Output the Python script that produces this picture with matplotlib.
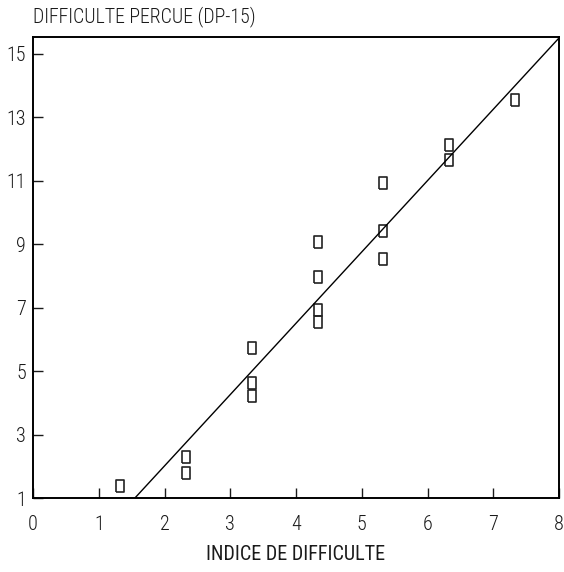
import numpy as np
import matplotlib.pyplot as plt

# Indice de difficulte vs difficulte percue (DP-15)
indice = [1.33, 2.33, 2.33, 3.33, 3.33, 3.33, 4.33, 4.33, 4.33, 4.33,
          5.33, 5.33, 5.33, 6.33, 6.33, 7.33]
dp15 = [1.39, 2.29, 1.80, 5.73, 4.62, 4.21, 9.06, 7.98, 6.91, 6.54,
        10.94, 9.40, 8.53, 12.13, 11.66, 13.55]

# fitted line  y = a*x + b
fit_a = 2.248
fit_b = -2.485

x_ticks = [0, 1, 2, 3, 4, 5, 6, 7, 8]
y_ticks = [1, 3, 5, 7, 9, 11, 13, 15]

plt.rcParams['font.family'] = ['Roboto Condensed', 'DejaVu Sans']
plt.rcParams['font.weight'] = 'light'
txt_color = '#1a1a1a'

fig = plt.figure(figsize=(5.64, 5.72), dpi=100)
ax = fig.add_axes([33 / 564, 1 - 498 / 572, 526 / 564, 461 / 572])

# tall open rectangles as markers
rect = [(-0.32, -0.5), (0.32, -0.5), (0.32, 0.5), (-0.32, 0.5), (-0.32, -0.5)]
ax.plot(indice, dp15, linestyle='none', marker=rect, markersize=8.4,
        markerfacecolor='none', markeredgecolor='#222222', markeredgewidth=1.2)

xs = np.array([(1 - fit_b) / fit_a, 8])
ax.plot(xs, fit_a * xs + fit_b, color='black', linewidth=1)

ax.set_xlim(0, 8)
ax.set_ylim(1, 15.53)
ax.set_xticks(x_ticks)
ax.set_yticks(y_ticks)
ax.tick_params(direction='in', length=7, width=1, labelsize=14.5,
               colors=txt_color)
ax.tick_params(axis='x', pad=12)
ax.tick_params(axis='y', pad=5)
for s in ax.spines.values():
    s.set_linewidth(1.4)

ax.set_xlabel('INDICE DE DIFFICULTE', fontsize=14.5, color=txt_color, labelpad=8)
fig.text(33 / 564, 1 - 17 / 572, 'DIFFICULTE PERCUE (DP-15)', fontsize=14.3,
         color=txt_color, ha='left', va='center')

fig.savefig('out.png', dpi=100)
